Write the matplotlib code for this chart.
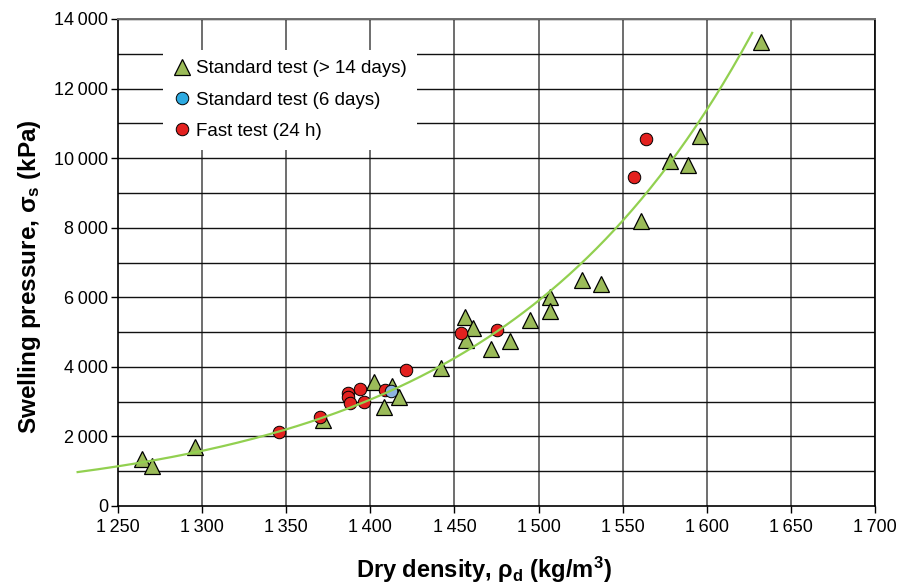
import numpy as np
import matplotlib
matplotlib.use("Agg")
import matplotlib.pyplot as plt
from matplotlib.lines import Line2D
from matplotlib.ticker import FuncFormatter

plt.rcParams["font.family"] = ["Liberation Sans", "DejaVu Sans"]
plt.rcParams["mathtext.fontset"] = "custom"
plt.rcParams["mathtext.rm"] = "Liberation Sans"
plt.rcParams["mathtext.it"] = "Liberation Sans:italic"
plt.rcParams["mathtext.bf"] = "Liberation Sans:bold"

# Standard test (> 14 days): dry density (kg/m3), swelling pressure (kPa)
std14_density = [1264, 1270, 1296, 1372, 1402, 1408, 1413, 1417, 1442, 1456,
                 1461, 1457, 1472, 1483, 1495, 1507, 1507, 1526, 1537, 1561,
                 1578, 1589, 1596, 1632]
std14_pressure = [1340, 1150, 1690, 2470, 3570, 2850, 3460, 3140, 3960, 5420,
                  5120, 4770, 4510, 4740, 5350, 6020, 5600, 6500, 6370, 8180,
                  9930, 9810, 10630, 13340]

# Standard test (6 days)
std6_density = [1412]
std6_pressure = [3310]

# Fast test (24 h)
fast_density = [1346, 1370, 1387, 1387, 1388, 1394, 1396, 1409, 1421, 1454,
                1475, 1557, 1564]
fast_pressure = [2140, 2550, 3240, 3140, 2950, 3360, 3000, 3330, 3910, 4960,
                 5060, 9460, 10560]

# Exponential trend line: sigma = a * exp(b * rho)
fit_a = 0.3089
fit_b = 0.006572
fit_range = (1226, 1627)

x_ticks = [1250, 1300, 1350, 1400, 1450, 1500, 1550, 1600, 1650, 1700]
y_ticks = [0, 2000, 4000, 6000, 8000, 10000, 12000, 14000]

green_fill = "#9BBB59"
red_fill = "#E3211F"
blue_fill = "#8DB4E2"
blue_legend = "#2DAAE1"
trend_color = "#92D050"

fig = plt.figure(figsize=(9.02, 5.88), dpi=100)
ax = fig.add_axes([118 / 902, 1 - 506 / 588, (875 - 118) / 902, (506 - 19) / 588])

ax.set_xlim(1250, 1700)
ax.set_ylim(0, 14000)

# grid: vertical lines every 50, horizontal every 1000
for xv in np.arange(1300, 1701, 50):
    ax.axvline(xv, color="#6E6E6E", lw=1.4, zorder=1)
for yv in np.arange(1000, 14001, 1000):
    ax.axhline(yv, color="#111111", lw=1.0, zorder=1)

ax.plot(std14_density, std14_pressure, linestyle="none", marker="^",
        markersize=11.5, markerfacecolor=green_fill, markeredgecolor="black",
        markeredgewidth=0.9, zorder=3)
ax.plot(fast_density, fast_pressure, linestyle="none", marker="o",
        markersize=9, markerfacecolor=red_fill, markeredgecolor="black",
        markeredgewidth=0.7, zorder=4)
ax.plot(std6_density, std6_pressure, linestyle="none", marker="o",
        markersize=9, markerfacecolor=blue_fill, markeredgecolor="black",
        markeredgewidth=0.7, zorder=5)

rho = np.linspace(fit_range[0], fit_range[1], 300)
ax.plot(rho, fit_a * np.exp(fit_b * rho), color=trend_color, lw=1.6,
        zorder=6, clip_on=False)

ax.set_xticks(x_ticks)
ax.set_yticks(y_ticks)
fmt = FuncFormatter(lambda v, p: f"{int(v):,}".replace(",", "\u2009"))
ax.xaxis.set_major_formatter(fmt)
ax.yaxis.set_major_formatter(fmt)
ax.tick_params(axis="both", direction="out", length=5, width=1.0,
               labelsize=13, colors="black")
ax.tick_params(axis="x", pad=4)
ax.tick_params(axis="y", pad=2)

for side in ("left", "bottom", "right"):
    ax.spines[side].set_color("black")
    ax.spines[side].set_linewidth(1.2)
ax.spines["top"].set_color("#6E6E6E")
ax.spines["top"].set_linewidth(1.4)

fig.text(484 / 902, 1 - 570 / 588, "Dry density, ρ$_\\mathbf{d}$ (kg/m$^\\mathbf{3}$)",
         ha="center", va="center", fontsize=17, fontweight="bold")
fig.text(30 / 902, 1 - 277 / 588, "Swelling pressure, σ$_\\mathbf{s}$ (kPa)",
         ha="center", va="center", rotation=90, fontsize=17.5, fontweight="bold")

handles = [
    Line2D([], [], linestyle="none", marker="^", markersize=11,
           markerfacecolor=green_fill, markeredgecolor="black", markeredgewidth=0.9),
    Line2D([], [], linestyle="none", marker="o", markersize=9,
           markerfacecolor=blue_legend, markeredgecolor="black", markeredgewidth=0.7),
    Line2D([], [], linestyle="none", marker="o", markersize=9,
           markerfacecolor=red_fill, markeredgecolor="black", markeredgewidth=0.7),
]
labels = ["Standard test (> 14 days)", "Standard test (6 days)", "Fast test (24 h)"]
leg = ax.legend(handles, labels, loc="upper left",
                bbox_to_anchor=((163 - 118) / 757, (506 - 50) / 487),
                borderaxespad=0, frameon=True, fancybox=False, framealpha=1,
                facecolor="white", edgecolor="none", fontsize=13.5,
                handlelength=0.9, handletextpad=0.3, labelspacing=0.75,
                borderpad=0.55)
leg.set_zorder(10)

fig.savefig("out.png", dpi=100)
